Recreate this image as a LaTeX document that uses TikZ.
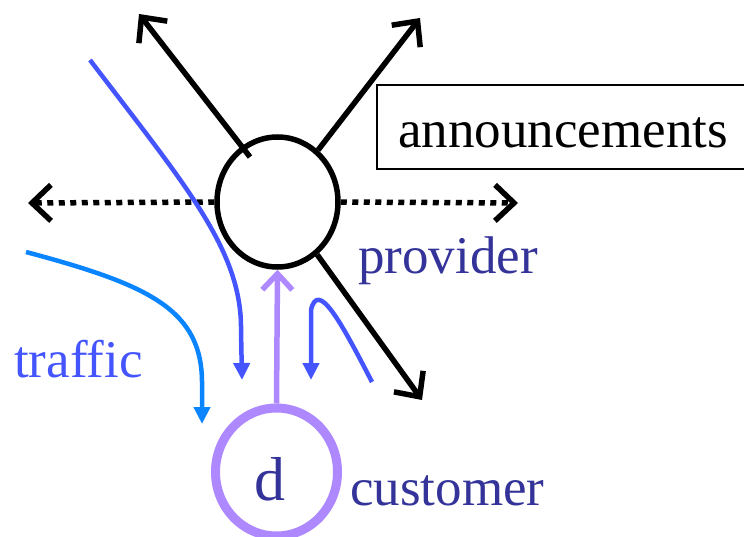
\documentclass[tikz,border=0pt]{standalone}
\usepackage{fontspec}
\setmainfont{Liberation Serif}
\usetikzlibrary{arrows.meta,shapes.geometric}

\definecolor{navytext}{HTML}{333399}
\definecolor{trafficblue}{HTML}{4455FF}
\definecolor{skyblue}{HTML}{0A84FF}
\definecolor{lilac}{HTML}{AE88FF}

\tikzset{
  bigfont/.style={font=\fontsize{53}{60}\selectfont},
  label/.style={bigfont, inner sep=0pt, anchor=base west},
  router/.style={ellipse, draw, line width=5.5pt, minimum width=121pt, minimum height=130pt, inner sep=0pt},
  custnode/.style={ellipse, draw=lilac, line width=9pt, minimum width=122pt, minimum height=128pt, inner sep=0pt},
  announce/.style={-{Straight Barb[length=19pt,width=36pt,line width=5.5pt]}, line width=5.5pt},
  dotannounce/.style={announce, dash pattern=on 6pt off 5.5pt},
  flow/.style={-{Triangle[length=17pt,width=16pt]}, line width=4.5pt},
}

\begin{document}
\begin{tikzpicture}[x=1pt,y=-1pt]
  \useasboundingbox (0,0) rectangle (744,537);

  % announcements label box (runs off the right edge)
  \draw[line width=2pt] (748,85) -- (377,85) -- (377,169) -- (748,169);
  \node[label] (annText) at (398,148) {announcements};

  % provider router and customer destination
  \node[router] (prov) at (277.5,202) {};
  \node[custnode] (cust) at (276.5,472) {};
  \node[inner sep=0pt, anchor=base, text=navytext, font=\fontsize{62}{70}\selectfont] (dText) at (270,500) {d};

  % free ends of the announcement arrows
  \coordinate (tipUL) at (139,14);
  \coordinate (tipUR) at (420,18);
  \coordinate (tipDR) at (422,400);
  \coordinate (tipL) at (28,203);
  \coordinate (tipR) at (518,203);
  \coordinate (startUL) at (250,157);

  \draw[announce] (startUL) -- (tipUL);
  \draw[announce] (prov.52) -- (tipUR);
  \draw[announce] (prov.-53) -- (tipDR);
  \draw[dotannounce] (prov.west) -- (tipL);
  \draw[dotannounce] (prov.east) -- (tipR);

  % customer announces to its provider
  \draw[lilac, line width=5.5pt, -{Straight Barb[length=16pt,width=30pt,line width=5.5pt]}]
    (cust.north) -- (prov.south);

  % traffic flows towards d
  \coordinate (f1s) at (90,60);
  \coordinate (f1e) at (242,380);
  \draw[trafficblue, flow] (f1s) .. controls (185,185) and (242,250) .. (241,330) -- (f1e);

  \coordinate (f2s) at (372,382);
  \coordinate (f2e) at (311,380);
  \draw[trafficblue, flow] (f2s) .. controls (340,320) and (318,280) .. (311,310) -- (f2e);

  \coordinate (f3s) at (26,252);
  \coordinate (f3e) at (202,424);
  \draw[skyblue, flow] (f3s) .. controls (150,285) and (203,310) .. (202,385) -- (f3e);

  % labels
  \node[label, text=navytext] (provText) at (358,273) {provider};
  \node[label, text=navytext] (custText) at (350,505) {customer};
  \node[label, text=trafficblue] (trafText) at (14,377) {traffic};
\end{tikzpicture}
\end{document}
